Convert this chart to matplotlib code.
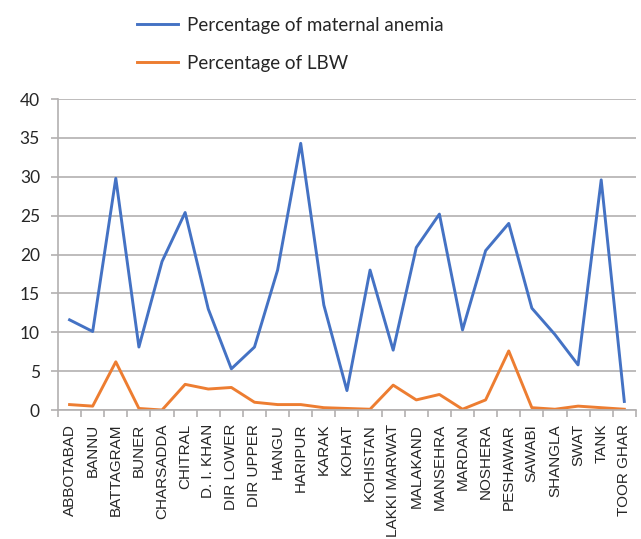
import matplotlib.pyplot as plt
import numpy as np

districts = ['ABBOTABAD', 'BANNU', 'BATTAGRAM', 'BUNER', 'CHARSADDA', 'CHITRAL',
             'D. I. KHAN', 'DIR LOWER', 'DIR UPPER', 'HANGU', 'HARIPUR', 'KARAK',
             'KOHAT', 'KOHISTAN', 'LAKKI MARWAT', 'MALAKAND', 'MANSEHRA', 'MARDAN',
             'NOSHERA', 'PESHAWAR', 'SAWABI', 'SHANGLA', 'SWAT', 'TANK', 'TOOR GHAR']
anemia = [11.6, 10.1, 29.8, 8.1, 19.1, 25.4, 13.0, 5.3, 8.1, 18.0, 34.3, 13.5,
          2.5, 18.0, 7.7, 20.9, 25.2, 10.3, 20.5, 24.0, 13.1, 9.7, 5.8, 29.6, 1.1]
lbw = [0.7, 0.5, 6.2, 0.2, 0.0, 3.3, 2.7, 2.9, 1.0, 0.7, 0.7, 0.3,
       0.2, 0.1, 3.2, 1.3, 2.0, 0.1, 1.3, 7.6, 0.3, 0.1, 0.5, 0.3, 0.1]

blue = '#4472C4'
orange = '#ED7D31'
grid_c = '#b3b0b0'
txt_c = '#262626'

fig = plt.figure(figsize=(6.41, 5.39), dpi=100)
ax = fig.add_axes([0.0905, 0.2393, 0.9015, 0.577])

x = np.arange(len(districts))
l1, = ax.plot(x, anemia, color=blue, lw=2.1, label='Percentage of maternal anemia')
l2, = ax.plot(x, lbw, color=orange, lw=2.1, label='Percentage of LBW')

ax.set_xlim(-0.5, len(districts) - 0.5)
ax.set_ylim(0, 40)
ax.set_yticks(range(0, 41, 5))
ax.grid(axis='y', color=grid_c, lw=1.2)
ax.set_axisbelow(True)

# category labels centred, tick marks between categories
ax.set_xticks(x)
ax.set_xticklabels(districts, rotation=90, fontsize=11, family='Liberation Sans',
                   color=txt_c)
ax.set_xticks(np.arange(-0.5, len(districts), 1), minor=True)
ax.tick_params(axis='x', which='major', length=0, pad=10)
ax.tick_params(axis='x', which='minor', length=5, color=grid_c, width=1.2)
ax.tick_params(axis='y', length=5, color=grid_c, width=1.2, labelsize=12.5,
               labelcolor=txt_c, pad=8)
for lab in ax.get_yticklabels():
    lab.set_family('Lato')

for s in ['top', 'right']:
    ax.spines[s].set_visible(False)
for s in ['left', 'bottom']:
    ax.spines[s].set_color(grid_c)
    ax.spines[s].set_linewidth(1.2)

fig.legend(handles=[l1, l2], loc='upper left', bbox_to_anchor=(0.187, 1.0),
           frameon=False, prop={'family': 'Lato', 'size': 13.5},
           handlelength=2.2, handletextpad=0.48, labelspacing=1.1,
           labelcolor=txt_c)

fig.savefig('out.png', dpi=100)
